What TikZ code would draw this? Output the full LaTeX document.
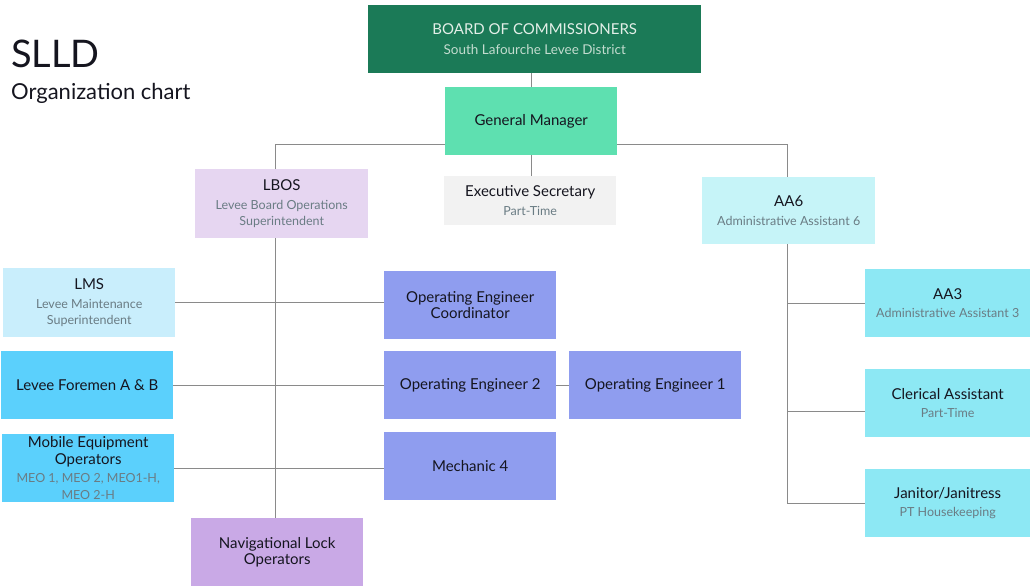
\documentclass[tikz,border=0pt]{standalone}
\usepackage{fontspec}
\setmainfont{Lato}
\usetikzlibrary{calc}
\definecolor{board}{HTML}{1B7A57}
\definecolor{boardt}{HTML}{E3EFE8}
\definecolor{boards}{HTML}{C3DCCF}
\definecolor{gm}{HTML}{5EE0B0}
\definecolor{exec}{HTML}{F2F2F2}
\definecolor{lbos}{HTML}{E6D6F1}
\definecolor{nav}{HTML}{C9A9E6}
\definecolor{aasix}{HTML}{C6F4F8}
\definecolor{aath}{HTML}{8DE8F4}
\definecolor{lms}{HTML}{C9EEFC}
\definecolor{fore}{HTML}{5BD0FC}
\definecolor{oe}{HTML}{8F9DEF}
\definecolor{txt}{HTML}{15151F}
\definecolor{sub}{HTML}{6A7C84}
\definecolor{conn}{HTML}{8A8A8A}
\tikzset{
  x=1pt,y=-1pt,
  box/.style={anchor=north west, inner sep=2pt, align=center, text=txt, font=\fontsize{15}{16.5}\selectfont, minimum width=172pt, minimum height=68pt},
  wire/.style={draw=conn, line width=1pt},
}
\newcommand{\subt}[1]{\\[2pt]\fontsize{12.5}{14}\selectfont\color{sub}#1}
\newcommand{\subn}[1]{\\\fontsize{12.5}{14}\selectfont\color{sub}#1}
\begin{document}
\begin{tikzpicture}
\useasboundingbox (0,0) rectangle (1030,586);
\node[anchor=base west, inner sep=0, text=txt, font=\fontsize{38}{42}\selectfont] (t1) at (11,67) {SLLD};
\node[anchor=base west, inner sep=0, text=txt, font=\fontsize{22}{24}\selectfont] (t2) at (11,99) {Organization chart};

\node[box, fill=board, text=boardt, minimum width=333pt, minimum height=68pt] (board) at (368,5)
  {BOARD OF COMMISSIONERS\\[3pt]\fontsize{13.5}{15}\selectfont\color{boards}South Lafourche Levee District};
\node[box, fill=gm] (gm) at (445,87) {General Manager};
\node[box, fill=exec, minimum height=49pt] (exec) at (444,176) {Executive Secretary\subt{Part-Time}};
\node[box, fill=lbos, minimum height=69pt, minimum width=173pt] (lbos) at (195,169) {LBOS\subt{Levee Board Operations}\subn{Superintendent}};
\node[box, fill=aasix, minimum height=67pt, minimum width=173pt] (aa6) at (702,177) {AA6\subt{Administrative Assistant 6}};

\node[box, fill=lms, minimum height=69pt] (lms) at (3,268) {LMS\subt{Levee Maintenance}\subn{Superintendent}};
\node[box, fill=fore] (fore) at (1,351) {Levee Foremen A \& B};
\node[box, fill=fore] (meo) at (2,434) {Mobile Equipment\\Operators\subt{MEO 1, MEO 2, MEO1-H,}\subn{MEO 2-H}};
\node[box, fill=nav] (nav) at (191,518) {Navigational Lock\\Operators};

\node[box, fill=oe] (oec) at (384,271) {Operating Engineer\\Coordinator};
\node[box, fill=oe] (oe2) at (384,351) {Operating Engineer 2};
\node[box, fill=oe] (oe1) at (569,351) {Operating Engineer 1};
\node[box, fill=oe] (mech) at (384,432) {Mechanic 4};

\node[box, fill=aath, minimum width=165pt] (aa3) at (865,269) {AA3\subt{Administrative Assistant 3}};
\node[box, fill=aath, minimum width=165pt] (cler) at (865,369) {Clerical Assistant\subt{Part-Time}};
\node[box, fill=aath, minimum width=165pt] (jan) at (865,469) {Janitor/Janitress\subt{PT Housekeeping}};

\coordinate (bus) at (0,144);
\draw[wire] (board.south -| gm.north) -- (gm.north);
\draw[wire] (gm.south) -- (gm.south |- exec.north);
\draw[wire] ([xshift=-6pt]lbos.north) -- ([xshift=-6pt]lbos.north |- bus) -- (gm.west |- bus);
\draw[wire] (gm.east |- bus) -- ([xshift=-1.5pt]aa6.north |- bus) -- ([xshift=-1.5pt]aa6.north);
\draw[wire] ([xshift=-2pt]nav.north) -- ([xshift=-2pt]nav.north |- lbos.south);
\draw[wire] (lms.east) -- (lms.east -| oec.west);
\draw[wire] (fore.east) -- (fore.east -| oe2.west);
\draw[wire] (meo.east) -- (meo.east -| mech.west);
\draw[wire] (oe2.east) -- (oe2.east -| oe1.west);
\draw[wire] ([xshift=-1.5pt]aa6.south) -- ([xshift=-1.5pt]aa6.south |- jan.west) -- (jan.west);
\draw[wire] ([xshift=-1.5pt]aa6.south |- aa3.west) -- (aa3.west);
\draw[wire] ([xshift=-1.5pt,yshift=-8pt]aa6.south |- cler.west) -- ([yshift=-8pt]cler.west);
\end{tikzpicture}
\end{document}
